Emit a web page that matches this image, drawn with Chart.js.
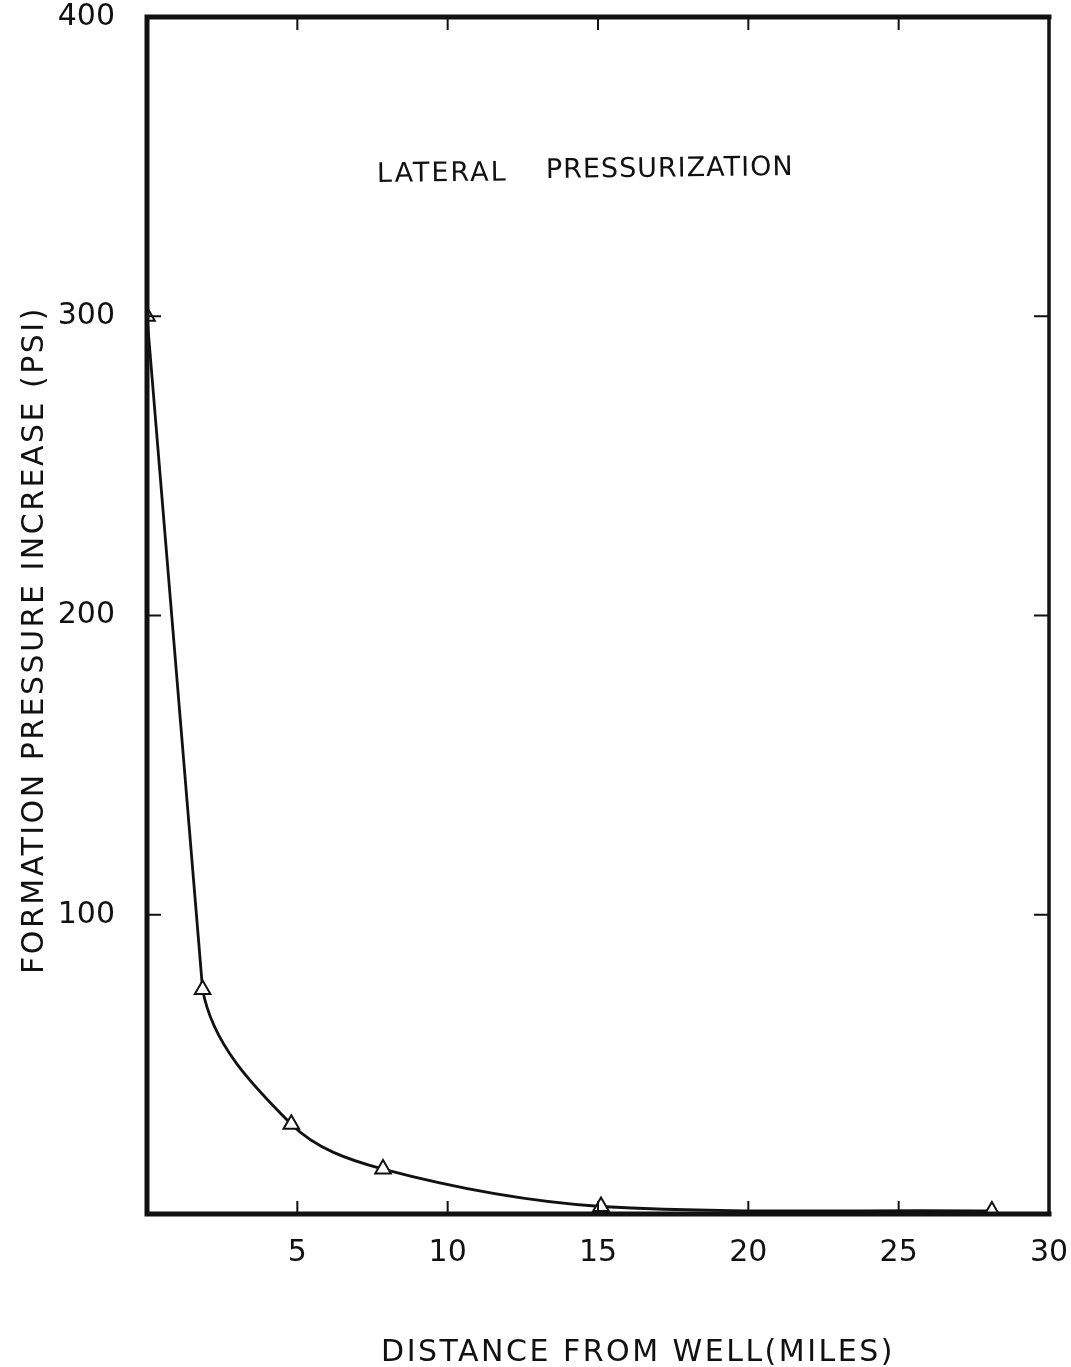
<!DOCTYPE html>
<html>
<head>
<meta charset="utf-8">
<script src="https://cdn.jsdelivr.net/npm/chart.js@4.4.1/dist/chart.umd.min.js"></script>
<style>
  html, body { margin: 0; padding: 0; background: #fff; }
  #pressureChart { display: block; }
</style>
</head>
<body>
<canvas id="pressureChart" width="1071" height="1367"></canvas>
<script>
// Lateral pressurization: pressure rise vs distance from the well
const distances = [0, 1.85, 4.8, 7.85, 15.1, 28.1];
const pressures = [300, 75, 30, 15, 2.5, 1];
const xTicks = [5, 10, 15, 20, 25, 30];
const yTicks = [100, 200, 300, 400];

const INK = '#111';

function toPoints(from, to) {
    const pts = [];
    for (let i = from; i < to; i++) {
        pts.push({ x: distances[i], y: pressures[i] });
    }
    return pts;
}

// frame, inward ticks on all four sides and the hand-lettered texts
const framePlugin = {
    id: 'frame',
    afterDraw(chart) {
        const ctx = chart.ctx;
        const a = chart.chartArea;
        const xs = chart.scales.x;
        const ys = chart.scales.y;
        ctx.save();
        ctx.strokeStyle = INK;
        ctx.lineCap = 'square';

        ctx.lineWidth = 5;
        ctx.beginPath();
        ctx.moveTo(a.left, a.bottom);
        ctx.lineTo(a.left, a.top);
        ctx.lineTo(a.right, a.top);
        ctx.moveTo(a.left, a.bottom);
        ctx.lineTo(a.right, a.bottom);
        ctx.stroke();
        ctx.lineWidth = 3.5;
        ctx.beginPath();
        ctx.moveTo(a.right, a.top);
        ctx.lineTo(a.right, a.bottom);
        ctx.stroke();

        ctx.lineWidth = 2;
        ctx.beginPath();
        xTicks.forEach(v => {
            if (v >= xs.max) return;
            const px = xs.getPixelForValue(v);
            ctx.moveTo(px, a.bottom);
            ctx.lineTo(px, a.bottom - 12);
            ctx.moveTo(px, a.top);
            ctx.lineTo(px, a.top + 12);
        });
        yTicks.forEach(v => {
            if (v >= ys.max) return;
            const py = ys.getPixelForValue(v);
            ctx.moveTo(a.left, py);
            ctx.lineTo(a.left + 13, py);
            ctx.moveTo(a.right, py);
            ctx.lineTo(a.right - 14, py);
        });
        ctx.stroke();

        ctx.fillStyle = INK;
        ctx.textBaseline = 'alphabetic';

        // annotation inside the plot
        ctx.save();
        ctx.font = '27px "DejaVu Sans"';
        ctx.letterSpacing = '2px';
        ctx.translate(377, 182);
        ctx.rotate(-0.012);
        ctx.textAlign = 'left';
        ctx.fillText('LATERAL', 0, 0);
        ctx.letterSpacing = '1px';
        ctx.fillText('PRESSURIZATION', 169, -2);
        ctx.restore();

        // x axis title
        ctx.font = '30px "DejaVu Sans"';
        ctx.letterSpacing = '2.5px';
        ctx.textAlign = 'center';
        ctx.fillText('DISTANCE FROM WELL(MILES)', 638, 1361);

        // y axis title
        ctx.save();
        ctx.translate(43, 640);
        ctx.rotate(-Math.PI / 2);
        ctx.fillText('FORMATION PRESSURE INCREASE (PSI)', 0, 0);
        ctx.restore();

        ctx.restore();
    }
};

const lineStyle = {
    borderColor: INK,
    borderWidth: 2.8,
    pointStyle: 'triangle',
    pointRadius: 9,
    pointBorderWidth: 2,
    pointBackgroundColor: '#fff',
    pointBorderColor: INK,
    fill: false
};

const ctx = document.getElementById('pressureChart').getContext('2d');
new Chart(ctx, {
    type: 'scatter',
    data: {
        datasets: [
            // straight drop from the well to the first station
            Object.assign({ label: 'steep', data: toPoints(0, 2), showLine: true, tension: 0,
                order: 2 }, lineStyle, { pointRadius: 0 }),
            // smooth tail; its first segment is hidden so the drop above stays straight
            Object.assign({ label: 'tail', data: toPoints(0, distances.length), showLine: true,
                tension: 0.35, order: 1,
                segment: { borderColor: c => c.p0DataIndex === 0 ? 'rgba(0,0,0,0)' : undefined } }, lineStyle)
        ]
    },
    options: {
        responsive: false,
        animation: false,
        layout: { padding: { top: 17, right: 22, left: 0, bottom: 0 } },
        plugins: {
            legend: { display: false },
            tooltip: { enabled: false }
        },
        scales: {
            x: {
                type: 'linear',
                min: 0,
                max: 30,
                grid: { display: false },
                border: { display: false },
                afterFit: scale => {
                    scale.height = 153;
                    scale.paddingLeft = 0;
                    scale.paddingRight = 0;
                },
                afterBuildTicks: scale => { scale.ticks = xTicks.map(v => ({ value: v })); },
                ticks: {
                    color: INK,
                    padding: 13,
                    maxRotation: 0,
                    font: { family: 'DejaVu Sans', size: 30 }
                }
            },
            y: {
                type: 'linear',
                min: 0,
                max: 400,
                grid: { display: false },
                border: { display: false },
                afterFit: scale => {
                    scale.width = 147;
                    scale.paddingTop = 0;
                    scale.paddingBottom = 0;
                },
                afterBuildTicks: scale => { scale.ticks = yTicks.map(v => ({ value: v })); },
                ticks: {
                    color: INK,
                    padding: 24,
                    font: { family: 'DejaVu Sans', size: 30 }
                }
            }
        }
    },
    plugins: [framePlugin]
});
</script>
</body>
</html>
